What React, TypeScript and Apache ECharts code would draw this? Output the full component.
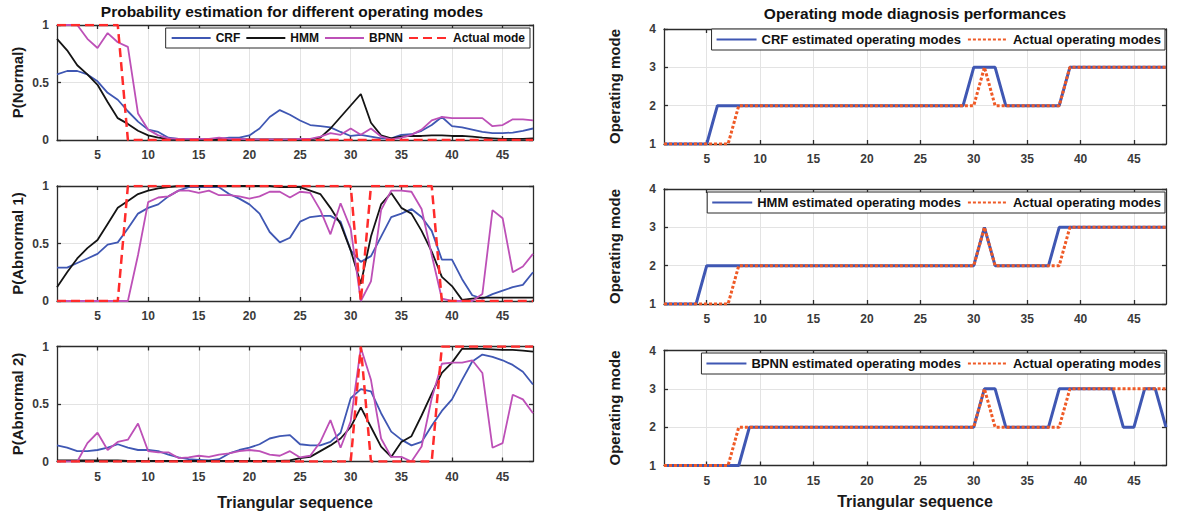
import React, { useEffect, useRef } from "react";
import * as echarts from "echarts";

// ---------- data ----------
const seq = Array.from({ length: 48 }, (_, i) => i + 1);
const xTicks = [5, 10, 15, 20, 25, 30, 35, 40, 45];

const crfNormal = [0.57, 0.6, 0.6, 0.57, 0.51, 0.41, 0.35, 0.25, 0.16, 0.09, 0.07, 0.02, 0.01, 0.01, 0.01, 0.01, 0.01, 0.02, 0.02, 0.04, 0.1, 0.2, 0.26, 0.22, 0.17, 0.13, 0.12, 0.11, 0.07, 0.035, 0.045, 0.03, 0.015, 0.015, 0.045, 0.05, 0.08, 0.13, 0.2, 0.12, 0.11, 0.09, 0.07, 0.06, 0.06, 0.065, 0.08, 0.1];
const hmmNormal = [0.88, 0.78, 0.65, 0.57, 0.48, 0.33, 0.19, 0.14, 0.08, 0.04, 0.02, 0.01, 0.005, 0.005, 0.005, 0.005, 0.005, 0.005, 0.005, 0.005, 0.005, 0.005, 0.005, 0.005, 0.005, 0.005, 0.02, 0.1, 0.2, 0.3, 0.4, 0.15, 0.04, 0.015, 0.03, 0.035, 0.035, 0.04, 0.04, 0.035, 0.035, 0.03, 0.02, 0.015, 0.01, 0.01, 0.01, 0.015];
const bpnnNormal = [1, 1, 1, 0.88, 0.8, 0.93, 0.85, 0.81, 0.23, 0.09, 0.04, 0.015, 0.01, 0.01, 0.01, 0.01, 0.02, 0.01, 0.01, 0.005, 0.005, 0.005, 0.005, 0.005, 0.01, 0.01, 0.03, 0.06, 0.045, 0.1, 0.045, 0.1, 0.03, 0.005, 0.02, 0.045, 0.09, 0.17, 0.2, 0.19, 0.19, 0.19, 0.19, 0.12, 0.13, 0.18, 0.18, 0.17];

const crfAb1 = [0.29, 0.29, 0.33, 0.37, 0.41, 0.49, 0.51, 0.63, 0.76, 0.81, 0.84, 0.91, 0.96, 0.99, 0.99, 0.99, 0.99, 0.93, 0.89, 0.84, 0.76, 0.6, 0.51, 0.55, 0.69, 0.73, 0.74, 0.74, 0.69, 0.44, 0.34, 0.39, 0.56, 0.73, 0.76, 0.8, 0.73, 0.61, 0.36, 0.36, 0.19, 0.05, 0.02, 0.06, 0.09, 0.12, 0.14, 0.25];
const hmmAb1 = [0.12, 0.25, 0.37, 0.46, 0.53, 0.67, 0.81, 0.87, 0.93, 0.96, 0.98, 0.99, 1, 1, 1, 1, 1, 1, 1, 1, 1, 1, 0.99, 0.99, 0.99, 0.96, 0.93, 0.81, 0.67, 0.44, 0.15, 0.56, 0.84, 0.94, 0.81, 0.76, 0.61, 0.43, 0.21, 0.13, 0.01, 0.02, 0.03, 0.03, 0.03, 0.03, 0.03, 0.03];
const bpnnAb1 = [0, 0, 0, 0, 0, 0, 0, 0, 0.4, 0.86, 0.9, 0.91, 0.96, 0.96, 0.94, 0.96, 0.92, 0.92, 0.91, 0.89, 0.91, 0.95, 0.95, 0.9, 0.95, 0.94, 0.79, 0.58, 0.85, 0.63, 0, 0.17, 0.79, 0.96, 0.96, 0.95, 0.8, 0.4, 0.02, 0, 0, 0, 0.06, 0.79, 0.72, 0.25, 0.3, 0.41];

const crfAb2 = [0.14, 0.12, 0.09, 0.09, 0.1, 0.12, 0.15, 0.12, 0.1, 0.1, 0.09, 0.06, 0.035, 0.02, 0.015, 0.01, 0.02, 0.07, 0.1, 0.12, 0.15, 0.2, 0.22, 0.23, 0.15, 0.14, 0.14, 0.17, 0.25, 0.55, 0.63, 0.61, 0.42, 0.26, 0.19, 0.14, 0.17, 0.31, 0.44, 0.54, 0.71, 0.87, 0.93, 0.91, 0.88, 0.84, 0.78, 0.67];
const hmmAb2 = [0.01, 0.01, 0.01, 0.01, 0.01, 0.01, 0.01, 0.005, 0.005, 0.005, 0.005, 0.005, 0.005, 0.005, 0.005, 0.005, 0.005, 0.005, 0.005, 0.005, 0.005, 0.005, 0.005, 0.01, 0.03, 0.04, 0.09, 0.14, 0.2, 0.3, 0.47, 0.3, 0.13, 0.04, 0.17, 0.22, 0.4, 0.59, 0.77, 0.86, 0.98, 0.98, 0.98, 0.975, 0.97, 0.97, 0.965, 0.955];
const bpnnAb2 = [0, 0, 0, 0.16, 0.25, 0.1, 0.17, 0.19, 0.33, 0.09, 0.08, 0.08, 0.03, 0.035, 0.05, 0.04, 0.06, 0.07, 0.09, 0.1, 0.09, 0.06, 0.05, 0.09, 0.035, 0.05, 0.17, 0.36, 0.12, 0.35, 0.99, 0.71, 0.2, 0.04, 0.04, 0, 0.13, 0.55, 0.85, 0.86, 0.86, 0.88, 0.77, 0.12, 0.16, 0.58, 0.54, 0.42];

const actualMode = [1, 1, 1, 1, 1, 1, 1, 2, 2, 2, 2, 2, 2, 2, 2, 2, 2, 2, 2, 2, 2, 2, 2, 2, 2, 2, 2, 2, 2, 2, 3, 2, 2, 2, 2, 2, 2, 2, 3, 3, 3, 3, 3, 3, 3, 3, 3, 3];
const crfMode = [1, 1, 1, 1, 1, 2, 2, 2, 2, 2, 2, 2, 2, 2, 2, 2, 2, 2, 2, 2, 2, 2, 2, 2, 2, 2, 2, 2, 2, 3, 3, 3, 2, 2, 2, 2, 2, 2, 3, 3, 3, 3, 3, 3, 3, 3, 3, 3];
const hmmMode = [1, 1, 1, 1, 2, 2, 2, 2, 2, 2, 2, 2, 2, 2, 2, 2, 2, 2, 2, 2, 2, 2, 2, 2, 2, 2, 2, 2, 2, 2, 3, 2, 2, 2, 2, 2, 2, 3, 3, 3, 3, 3, 3, 3, 3, 3, 3, 3];
const bpnnMode = [1, 1, 1, 1, 1, 1, 1, 1, 2, 2, 2, 2, 2, 2, 2, 2, 2, 2, 2, 2, 2, 2, 2, 2, 2, 2, 2, 2, 2, 2, 3, 3, 2, 2, 2, 2, 2, 3, 3, 3, 3, 3, 3, 2, 2, 3, 3, 2];

// actual-mode indicator probabilities
const actualNormal = actualMode.map((m) => (m === 1 ? 1 : 0));
const actualAb1 = actualMode.map((m) => (m === 2 ? 1 : 0));
const actualAb2 = actualMode.map((m) => (m === 3 ? 1 : 0));

const leftNames = ["P(Normal)", "P(Abnormal 1)", "P(Abnormal 2)"];
const rightMethods = ["CRF", "HMM", "BPNN"];

// ---------- styles ----------
const FONT = "'Liberation Sans', Arial, Helvetica, sans-serif";
const AXIS = "#2b2b2b";
const LABEL = "#3a3a3a";
const GRIDC = "#e3e3e3";
const BLUE = "#3f57b3";
const BLACK = "#141414";
const MAGENTA = "#bd50b7";
const RED = "#ff2b2b";
const ORANGE = "#ef5a26";

const pts = (vals: number[]) => vals.map((v, i) => [seq[i], v]);

function buildOption() {
  const grid: any[] = [];
  const xAxis: any[] = [];
  const yAxis: any[] = [];
  const series: any[] = [];
  const legend: any[] = [];

  const leftTops = [25, 186, 346.5];
  const rightTops = [29, 189, 350.5];
  const lineStyleAxis = { color: AXIS, width: 1.3 };

  const addPanel = (
    left: number,
    top: number,
    width: number,
    height: number,
    yMin: number,
    yMax: number,
    yInterval: number,
    yName: string,
    yNameGap: number,
    xName: string,
    xNameGap: number
  ) => {
    const gi = grid.length;
    grid.push({ left, top, width, height, containLabel: false });
    xAxis.push({
      type: "value",
      gridIndex: gi,
      position: "bottom",
      min: 1,
      max: 48,
      axisLine: { show: true, onZero: false, lineStyle: lineStyleAxis },
      axisTick: { show: true, inside: true, length: 4, customValues: xTicks, lineStyle: lineStyleAxis },
      axisLabel: { show: true, customValues: xTicks, margin: 9, color: LABEL, fontSize: 12, fontWeight: "bold", fontFamily: FONT },
      splitLine: { show: true, lineStyle: { color: GRIDC, width: 1 } },
      name: xName,
      nameLocation: "middle",
      nameGap: xNameGap,
      nameTextStyle: { fontSize: 16, fontWeight: "bold", color: "#1a1a1a", fontFamily: FONT },
    });
    yAxis.push({
      type: "value",
      gridIndex: gi,
      position: "left",
      min: yMin,
      max: yMax,
      interval: yInterval,
      axisLine: { show: true, onZero: false, lineStyle: lineStyleAxis },
      axisTick: { show: true, inside: true, length: 4, lineStyle: lineStyleAxis },
      axisLabel: { show: true, margin: 8, color: LABEL, fontSize: 12, fontWeight: "bold", fontFamily: FONT },
      splitLine: { show: true, lineStyle: { color: GRIDC, width: 1 } },
      name: yName,
      nameLocation: "middle",
      nameGap: yNameGap,
      nameTextStyle: { fontSize: 15, fontWeight: "bold", color: "#1a1a1a", fontFamily: FONT },
    });
    return gi;
  };

  const addFrame = (gi: number, yMin: number, yMax: number, yInterval: number) => {
    xAxis.push({
      type: "value",
      gridIndex: gi,
      position: "top",
      min: 1,
      max: 48,
      axisLine: { show: true, onZero: false, lineStyle: lineStyleAxis },
      axisTick: { show: true, inside: true, length: 4, customValues: xTicks, lineStyle: lineStyleAxis },
      axisLabel: { show: false },
      splitLine: { show: false },
    });
    yAxis.push({
      type: "value",
      gridIndex: gi,
      position: "right",
      min: yMin,
      max: yMax,
      interval: yInterval,
      axisLine: { show: true, onZero: false, lineStyle: lineStyleAxis },
      axisTick: { show: true, inside: true, length: 4, lineStyle: lineStyleAxis },
      axisLabel: { show: false },
      splitLine: { show: false },
    });
  };

  const leftData = [
    [crfNormal, hmmNormal, bpnnNormal, actualNormal],
    [crfAb1, hmmAb1, bpnnAb1, actualAb1],
    [crfAb2, hmmAb2, bpnnAb2, actualAb2],
  ];

  const panelIdx: number[] = [];
  for (let k = 0; k < 3; k++) {
    const gi = addPanel(57, leftTops[k], 476, 115, 0, 1, 0.5, leftNames[k], 32, k === 2 ? "Triangular sequence" : "", 33);
    panelIdx.push(gi);
  }
  const modeData = [crfMode, hmmMode, bpnnMode];
  for (let k = 0; k < 3; k++) {
    const gi = addPanel(664, rightTops[k], 502, 115, 1, 4, 1, "Operating mode", 42, k === 2 ? "Triangular sequence" : "", 28);
    panelIdx.push(gi);
  }
  for (let k = 0; k < 3; k++) addFrame(panelIdx[k], 0, 1, 0.5);
  for (let k = 0; k < 3; k++) addFrame(panelIdx[3 + k], 1, 4, 1);

  const methodNames = ["CRF", "HMM", "BPNN", "Actual mode"];
  const methodColors = [BLUE, BLACK, MAGENTA, RED];
  for (let k = 0; k < 3; k++) {
    const gi = panelIdx[k];
    for (let m = 0; m < 4; m++) {
      series.push({
        type: "line",
        name: methodNames[m],
        xAxisIndex: gi,
        yAxisIndex: gi,
        data: pts(leftData[k][m]),
        showSymbol: false,
        symbol: "none",
        lineStyle: m === 3 ? { color: RED, width: 2.5, type: [9, 5] } : { color: methodColors[m], width: 1.8 },
        itemStyle: { color: methodColors[m] },
        z: 2 + m,
      });
    }
  }
  legend.push({
    data: methodNames,
    right: 647,
    top: 28,
    orient: "horizontal",
    backgroundColor: "#fff",
    borderColor: AXIS,
    borderWidth: 1,
    borderRadius: 0,
    padding: [4, 5, 4, 5],
    itemGap: 5,
    itemWidth: 39,
    itemHeight: 14,
    itemStyle: { opacity: 0 },
    textStyle: { fontSize: 12, fontWeight: "bold", color: "#111", fontFamily: FONT },
  });

  const legendTops = [29, 192, 353];
  for (let k = 0; k < 3; k++) {
    const gi = panelIdx[3 + k];
    const estName = `${rightMethods[k]} estimated operating modes`;
    series.push({
      type: "line",
      name: estName,
      xAxisIndex: gi,
      yAxisIndex: gi,
      data: pts(modeData[k]),
      showSymbol: false,
      symbol: "none",
      lineStyle: { color: BLUE, width: 3 },
      itemStyle: { color: BLUE },
      z: 2,
    });
    series.push({
      type: "line",
      name: "Actual operating modes",
      xAxisIndex: gi,
      yAxisIndex: gi,
      data: pts(actualMode),
      showSymbol: false,
      symbol: "none",
      lineStyle: { color: ORANGE, width: 3, type: [3, 2] },
      itemStyle: { color: ORANGE },
      z: 3,
    });
    legend.push({
      data: [estName, "Actual operating modes"],
      right: 12,
      top: legendTops[k],
      orient: "horizontal",
      backgroundColor: "#fff",
      borderColor: AXIS,
      borderWidth: 1,
      borderRadius: 0,
      padding: [4, 4, 4, 4],
      itemGap: 6,
      itemWidth: 40,
      itemHeight: 14,
      itemStyle: { opacity: 0 },
      textStyle: { fontSize: 13, fontWeight: "bold", color: "#111", fontFamily: FONT },
    });
  }

  return {
    animation: false,
    backgroundColor: "#fff",
    title: [
      {
        text: "Probability estimation for different operating modes",
        left: 292,
        top: 3,
        padding: 0,
        textAlign: "center",
        textStyle: { fontSize: 15.5, fontWeight: "bold", color: "#111", fontFamily: FONT },
      },
      {
        text: "Operating mode diagnosis performances",
        left: 915,
        top: 5,
        padding: 0,
        textAlign: "center",
        textStyle: { fontSize: 15.5, fontWeight: "bold", color: "#111", fontFamily: FONT },
      },
    ],
    grid,
    xAxis,
    yAxis,
    legend,
    series,
  };
}

export default function App() {
  const ref = useRef<HTMLDivElement>(null);
  useEffect(() => {
    const chart = echarts.init(ref.current!, null, { renderer: "svg" });
    chart.setOption(buildOption() as any);
    return () => chart.dispose();
  }, []);
  return (
    <div
      ref={ref}
      style={{ position: "absolute", left: 0, top: 0, width: 1177, height: 521, background: "#fff" }}
    />
  );
}
